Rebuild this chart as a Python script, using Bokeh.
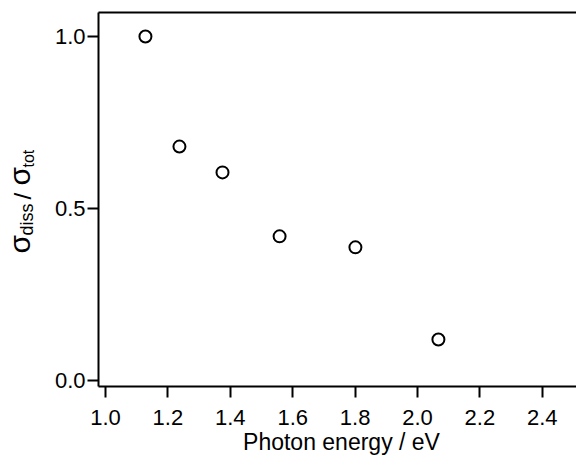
import numpy as np
from bokeh.plotting import figure
from bokeh.models import Range1d, FixedTicker, PrintfTickFormatter, LinearAxis, Label
from bokeh.embed import file_html
from bokeh.resources import INLINE

# data
photon_energy = [1.128, 1.237, 1.375, 1.558, 1.801, 2.067]
ratio = [1.000, 0.680, 0.605, 0.419, 0.387, 0.119]
x_ticks = [1.0, 1.2, 1.4, 1.6, 1.8, 2.0, 2.2, 2.4]
y_ticks = [0.0, 0.5, 1.0]
x_label = "Photon energy / eV"

FONT = "Liberation Sans"
W, H = 576, 456
# the frame covers the whole canvas; axes are pinned where the reference draws them
PPX, PPY = 312.0, 344.0          # pixels per unit
X0 = 1.0 - 105 / PPX             # data x at the canvas' left edge
X1 = X0 + W / PPX
Y1 = 380 / PPY                   # data y at the canvas' top edge
Y0 = Y1 - H / PPY


def dx(sx):
    return X0 + sx / PPX


def dy(sy):
    return Y1 - sy / PPY


XL, YB, YT = dx(98), dy(386), dy(12)

p = figure(width=W, height=H, output_backend="svg", toolbar_location=None,
           x_range=Range1d(X0, X1), y_range=Range1d(Y0, Y1),
           x_axis_location=None, y_axis_location=None, min_border=0)
p.outline_line_color = None
p.grid.visible = False
p.background_fill_color = "white"
p.border_fill_color = "white"

yax = LinearAxis(fixed_location=XL, bounds=(YB, YT), ticker=FixedTicker(ticks=y_ticks))
xax = LinearAxis(fixed_location=YB, bounds=(XL, X1), ticker=FixedTicker(ticks=x_ticks))
p.add_layout(yax, "left")
p.add_layout(xax, "below")

for ax in (xax, yax):
    ax.axis_line_width = 2
    ax.axis_line_color = "black"
    ax.major_tick_line_width = 2
    ax.major_tick_line_color = "black"
    ax.major_tick_in = 0
    ax.major_tick_out = 11
    ax.minor_tick_line_color = None
    ax.major_label_text_font = FONT
    ax.major_label_text_font_size = "22px"
    ax.major_label_text_color = "black"
    ax.formatter = PrintfTickFormatter(format="%.1f")
xax.major_label_standoff = 12
yax.major_label_standoff = 2

top = LinearAxis(fixed_location=YT, bounds=(XL, X1),
                 axis_line_width=2, axis_line_color="black",
                 major_tick_line_color=None, minor_tick_line_color=None,
                 major_label_text_font_size="0px", major_label_standoff=0,
                 ticker=FixedTicker(ticks=[]))
p.add_layout(top, "above")

p.scatter(photon_energy, ratio, marker="circle", size=12,
          fill_color="white", line_color="black", line_width=2)

# x-axis title
p.add_layout(Label(x=dx(341), y=dy(454), text=x_label, text_font=FONT,
                   text_font_size="23px", text_color="black",
                   text_align="center", text_baseline="bottom"))

# rotated y-axis title built from pieces (sigma with subscripts), reading upwards
base_x = 35
pieces = [("σ", 253, "30px", 0), ("diss", 235, "18px", 1),
          ("/", 199, "24px", 0), ("σ", 185, "30px", 0), ("tot", 167, "16px", 1)]
for txt, sy, fs, off in pieces:
    p.add_layout(Label(x=dx(base_x + off), y=dy(sy), text=txt, angle=np.pi / 2,
                       text_font=FONT, text_font_size=fs, text_color="black",
                       text_align="left", text_baseline="bottom"))

open("out.html", "w").write(file_html(p, INLINE))
